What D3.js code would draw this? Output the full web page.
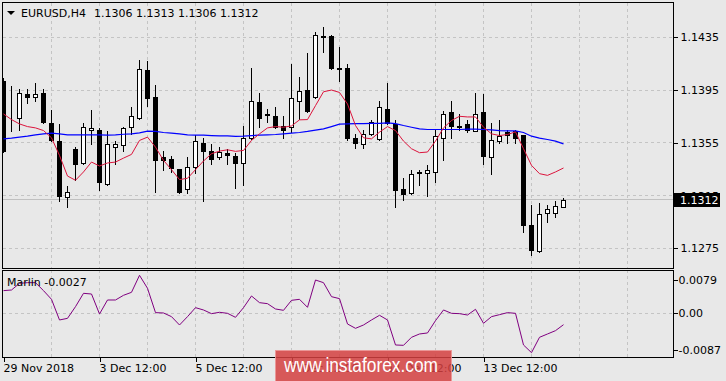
<!DOCTYPE html>
<html>
<head>
<meta charset="utf-8">
<script src="https://cdn.jsdelivr.net/npm/d3@7"></script>
<style>
  html, body { margin: 0; padding: 0; background: #e8e8e8; }
  svg { display: block; font-family: "DejaVu Sans", sans-serif; font-size: 11px; }
</style>
</head>
<body>
<svg id="chart" width="726" height="381"></svg>
<script>
(function() {

  var symbol = 'EURUSD,H4';
  var lastQuote = ['1.1306', '1.1313', '1.1306', '1.1312'];

  // H4 bars, 29 Nov 2018 12:00 .. 17 Dec
  var barOpen = [1.1402, 1.1373, 1.1374, 1.1392, 1.1390, 1.1393, 1.1370, 1.1356, 1.1314, 1.1350,
                 1.1340, 1.1365, 1.1365, 1.1324, 1.1352, 1.1353, 1.1367, 1.1374, 1.1410, 1.1390,
                 1.1344, 1.1343, 1.1335, 1.1320, 1.1337, 1.1355, 1.1349, 1.1344, 1.1347, 1.1345,
                 1.1340, 1.1359, 1.1386, 1.1377, 1.1375, 1.1368, 1.1367, 1.1387, 1.1395, 1.1390,
                 1.1436, 1.1436, 1.1412, 1.1412, 1.1359, 1.1354, 1.1362, 1.1358, 1.1381, 1.1369,
                 1.1320, 1.1317, 1.1333, 1.1332, 1.1333, 1.1359, 1.1378, 1.1368, 1.1369, 1.1364,
                 1.1378, 1.1344, 1.1356, 1.1363, 1.1364, 1.1361, 1.1293, 1.1273, 1.1302, 1.1302,
                 1.1306];
  var barHigh = [1.1404, 1.1398, 1.1396, 1.1396, 1.1400, 1.1396, 1.1380, 1.1369, 1.1322, 1.1352,
                 1.1370, 1.1380, 1.1366, 1.1364, 1.1356, 1.1367, 1.1382, 1.1418, 1.1417, 1.1399,
                 1.1349, 1.1345, 1.1335, 1.1344, 1.1361, 1.1359, 1.1354, 1.1352, 1.1350, 1.1347,
                 1.1368, 1.1412, 1.1393, 1.1381, 1.1382, 1.1375, 1.1415, 1.1405, 1.1423, 1.1439,
                 1.1443, 1.1437, 1.1428, 1.1415, 1.1362, 1.1365, 1.1372, 1.1387, 1.1400, 1.1372,
                 1.1328, 1.1334, 1.1334, 1.1338, 1.1365, 1.1379, 1.1387, 1.1377, 1.1372, 1.1393,
                 1.1392, 1.1370, 1.1372, 1.1365, 1.1365, 1.1361, 1.1308, 1.1309, 1.1308, 1.1311,
                 1.1313];
  var barLow = [1.1348, 1.1364, 1.1365, 1.1385, 1.1387, 1.1370, 1.1356, 1.1311, 1.1306, 1.1327,
                1.1339, 1.1354, 1.1319, 1.1323, 1.1339, 1.1349, 1.1362, 1.1373, 1.1383, 1.1318,
                1.1334, 1.1333, 1.1317, 1.1317, 1.1332, 1.1311, 1.1339, 1.1343, 1.1339, 1.1321,
                1.1323, 1.1358, 1.1367, 1.1371, 1.1366, 1.1359, 1.1363, 1.1373, 1.1378, 1.1389,
                1.1424, 1.1411, 1.1402, 1.1357, 1.1351, 1.1351, 1.1361, 1.1357, 1.1369, 1.1306,
                1.1312, 1.1316, 1.1323, 1.1315, 1.1325, 1.1342, 1.1359, 1.1365, 1.1363, 1.1364,
                1.1339, 1.1331, 1.1355, 1.1355, 1.1355, 1.1287, 1.1270, 1.1272, 1.1295, 1.1299,
                1.1306];
  var barClose = [1.1349, 1.1373, 1.1393, 1.1390, 1.1392, 1.1371, 1.1357, 1.1315, 1.1318, 1.1339,
                  1.1367, 1.1366, 1.1325, 1.1354, 1.1354, 1.1366, 1.1375, 1.1411, 1.1389, 1.1342,
                  1.1342, 1.1336, 1.1318, 1.1337, 1.1356, 1.1349, 1.1343, 1.1348, 1.1346, 1.1340,
                  1.1359, 1.1387, 1.1374, 1.1376, 1.1367, 1.1365, 1.1389, 1.1394, 1.1379, 1.1437,
                  1.1435, 1.1412, 1.1411, 1.1359, 1.1355, 1.1362, 1.1371, 1.1382, 1.1370, 1.1319,
                  1.1316, 1.1331, 1.1332, 1.1334, 1.1360, 1.1377, 1.1368, 1.1367, 1.1365, 1.1377,
                  1.1345, 1.1357, 1.1360, 1.1361, 1.1359, 1.1293, 1.1274, 1.1301, 1.1305, 1.1307,
                  1.1312];

  // red (fast) and blue (slow) moving averages
  var maFast = [1.13769, 1.13726, 1.13693, 1.13673, 1.13663, 1.13643, 1.13588, 1.13454, 1.13298, 1.13266,
                1.13329, 1.13404, 1.13374, 1.13397, 1.13404, 1.13434, 1.13462, 1.13568, 1.13593, 1.13517,
                1.13417, 1.13346, 1.13271, 1.13281, 1.13346, 1.13412, 1.13467, 1.13487, 1.13497, 1.13485,
                1.13492, 1.13568, 1.13618, 1.13663, 1.13673, 1.13668, 1.13678, 1.13724, 1.13726, 1.13832,
                1.13937, 1.13950, 1.13932, 1.13844, 1.13681, 1.13588, 1.13580, 1.13631, 1.13673, 1.13643,
                1.13563, 1.13505, 1.13475, 1.13480, 1.13563, 1.13663, 1.13719, 1.13751, 1.13746, 1.13746,
                1.13668, 1.13618, 1.13605, 1.13613, 1.13633, 1.13505, 1.13379, 1.13316, 1.13303, 1.13329,
                1.13359];
  var maSlow = [1.13580, 1.13585, 1.13593, 1.13600, 1.13610, 1.13618, 1.13623, 1.13618, 1.13610, 1.13610,
                1.13610, 1.13610, 1.13610, 1.13608, 1.13610, 1.13615, 1.13618, 1.13625, 1.13638, 1.13636,
                1.13628, 1.13623, 1.13618, 1.13610, 1.13608, 1.13608, 1.13605, 1.13603, 1.13603, 1.13598,
                1.13600, 1.13605, 1.13608, 1.13610, 1.13613, 1.13618, 1.13623, 1.13628, 1.13636, 1.13646,
                1.13656, 1.13673, 1.13691, 1.13693, 1.13696, 1.13696, 1.13698, 1.13698, 1.13701, 1.13696,
                1.13681, 1.13668, 1.13656, 1.13651, 1.13651, 1.13651, 1.13651, 1.13651, 1.13653, 1.13653,
                1.13651, 1.13648, 1.13643, 1.13641, 1.13641, 1.13628, 1.13600, 1.13585, 1.13575, 1.13563,
                1.13542];

  var marlin = [0.00538, 0.00553, 0.00711, 0.00727, 0.00727, 0.00538, 0.00332, -0.00158, -0.00119, 0.00158,
                0.00474, 0.00458, -0.00016, 0.00316, 0.00316, 0.00427, 0.00498, 0.00901, 0.00593, 0.00016,
                0.00008, -0.00079, -0.00277, -0.00079, 0.00134, 0.00079, -0.00008, 0.00024, 0.00000, -0.00095,
                0.00134, 0.00411, 0.00253, 0.00229, 0.00103, 0.00071, 0.00308, 0.00332, 0.00142, 0.00790,
                0.00727, 0.00395, 0.00348, -0.00253, -0.00356, -0.00277, -0.00158, -0.00047, -0.00158, -0.00751,
                -0.00759, -0.00569, -0.00490, -0.00466, -0.00174, 0.00079, 0.00000, -0.00008, -0.00040, 0.00095,
                -0.00237, -0.00079, -0.00032, 0.00016, 0.00000, -0.00751, -0.00933, -0.00569, -0.00490, -0.00411,
                -0.00270];

  var timeTicks = [0, 12, 24, 36, 48, 60];
  var timeLabels = ['29 Nov 2018', '3 Dec 12:00', '5 Dec 12:00', '7 Dec 12:00', '11 Dec 12:00', '13 Dec 12:00'];
  var priceTicks = [1.1435, 1.1395, 1.1355, 1.1315, 1.1275];
  var marlinTicks = [0.0079, 0, -0.0087];
  var marlinLabels = ['0.0079', '0.00', '-0.0087'];

  var svg = d3.select('#chart');

  var x = d3.scaleLinear().domain([0, 70]).range([3.5, 563.5]);
  var y = d3.scaleLinear().domain([1.1275, 1.1435]).range([248.3, 37.3]);
  var ym = d3.scaleLinear().domain([-0.0087, 0.0079]).range([350, 280]);

  function px(v) { return Math.floor(v) + 0.5; }

  var gridColor = '#c4c4c4';

  svg.append('defs').append('clipPath').attr('id', 'mainClip')
    .append('rect').attr('x', 3).attr('y', 3).attr('width', 670).attr('height', 265);
  svg.select('defs').append('clipPath').attr('id', 'subClip')
    .append('rect').attr('x', 3).attr('y', 271).attr('width', 670).attr('height', 86);

  // vertical grid, every 6 bars (one day)
  var vGrid = d3.range(6, 79, 6);
  [[3, 268], [270, 357]].forEach(function(span) {
    svg.append('g').selectAll('line').data(vGrid).enter().append('line')
      .attr('x1', function(d) { return x(d); })
      .attr('x2', function(d) { return x(d); })
      .attr('y1', span[0]).attr('y2', span[1])
      .attr('stroke', gridColor).attr('stroke-dasharray', '3,3')
      .attr('shape-rendering', 'crispEdges');
  });

  svg.append('g').selectAll('line').data(priceTicks).enter().append('line')
    .attr('x1', 3).attr('x2', 673)
    .attr('y1', function(d) { return px(y(d)); })
    .attr('y2', function(d) { return px(y(d)); })
    .attr('stroke', gridColor).attr('stroke-dasharray', '3,3')
    .attr('shape-rendering', 'crispEdges');

  svg.append('line')
    .attr('x1', 3).attr('x2', 673)
    .attr('y1', px(ym(0))).attr('y2', px(ym(0)))
    .attr('stroke', gridColor).attr('stroke-dasharray', '3,3')
    .attr('shape-rendering', 'crispEdges');

  // bid line
  svg.append('line')
    .attr('x1', 3).attr('x2', 673)
    .attr('y1', px(y(+lastQuote[3]))).attr('y2', px(y(+lastQuote[3])))
    .attr('stroke', '#c0c0c0')
    .attr('shape-rendering', 'crispEdges');

  var plot = svg.append('g').attr('clip-path', 'url(#mainClip)');

  var bars = d3.range(barOpen.length);

  plot.append('g').selectAll('line').data(bars).enter().append('line')
    .attr('x1', function(i) { return x(i); })
    .attr('x2', function(i) { return x(i); })
    .attr('y1', function(i) { return Math.round(y(barHigh[i])); })
    .attr('y2', function(i) { return Math.round(y(barLow[i])) + 1; })
    .attr('stroke', '#000')
    .attr('shape-rendering', 'crispEdges');

  plot.append('g').selectAll('rect').data(bars).enter().append('rect')
    .attr('x', function(i) { return x(i) - 2; })
    .attr('width', 4)
    .attr('y', function(i) { return Math.round(y(Math.max(barOpen[i], barClose[i]))) + 0.5; })
    .attr('height', function(i) {
      return Math.round(y(Math.min(barOpen[i], barClose[i]))) - Math.round(y(Math.max(barOpen[i], barClose[i])));
    })
    .attr('fill', function(i) { return barClose[i] >= barOpen[i] ? '#fff' : '#000'; })
    .attr('stroke', '#000')
    .attr('shape-rendering', 'crispEdges');

  var maLine = d3.line()
    .x(function(d, i) { return x(i); })
    .y(function(d) { return y(d); });

  plot.append('path').datum(maSlow)
    .attr('d', maLine).attr('fill', 'none')
    .attr('stroke', '#0000ff').attr('stroke-width', 1.2);

  plot.append('path').datum(maFast)
    .attr('d', maLine).attr('fill', 'none')
    .attr('stroke', '#dc143c').attr('stroke-width', 1);

  var subLine = d3.line()
    .x(function(d, i) { return x(i); })
    .y(function(d) { return ym(d); });

  svg.append('g').attr('clip-path', 'url(#subClip)')
    .append('path').datum(marlin)
    .attr('d', subLine).attr('fill', 'none')
    .attr('stroke', '#800080').attr('stroke-width', 1);

  // frames
  svg.append('rect').attr('x', 2.5).attr('y', 2.5).attr('width', 671).attr('height', 266)
    .attr('fill', 'none').attr('stroke', '#000').attr('shape-rendering', 'crispEdges');
  svg.append('rect').attr('x', 2.5).attr('y', 270.5).attr('width', 671).attr('height', 87)
    .attr('fill', 'none').attr('stroke', '#000').attr('shape-rendering', 'crispEdges');

  // axes
  var priceAxis = svg.append('g')
    .attr('transform', 'translate(673.5,0)')
    .call(d3.axisRight(y).tickValues(priceTicks).tickSize(4).tickPadding(3)
      .tickFormat(d3.format('.4f')));

  var subAxis = svg.append('g')
    .attr('transform', 'translate(673.5,0)')
    .call(d3.axisRight(ym).tickValues(marlinTicks).tickSize(4).tickPadding(1)
      .tickFormat(function(d, i) { return marlinLabels[i]; }));

  var timeAxis = svg.append('g')
    .attr('transform', 'translate(0,357.5)')
    .call(d3.axisBottom(x).tickValues(timeTicks).tickSize(4).tickPadding(3)
      .tickFormat(function(d, i) { return timeLabels[i]; }));
  timeAxis.selectAll('text').attr('text-anchor', 'start').attr('x', -0.5);

  [priceAxis, subAxis, timeAxis].forEach(function(ax) {
    ax.select('.domain').remove();
    ax.selectAll('line').attr('stroke', '#000').attr('shape-rendering', 'crispEdges');
    ax.selectAll('text').attr('fill', '#000')
      .style('font-family', '"DejaVu Sans", sans-serif').style('font-size', '11px');
  });

  // current price tag
  var tagY = y(+lastQuote[3]);
  svg.append('rect').attr('x', 674).attr('y', Math.round(tagY) - 7).attr('width', 46).attr('height', 14)
    .attr('fill', '#000');
  svg.append('text').attr('x', 680).attr('y', Math.round(tagY) + 4)
    .attr('fill', '#fff').text(lastQuote[3]);

  // header
  svg.append('path').attr('d', 'M7,11 L15,11 L11,15 Z').attr('fill', '#000');
  svg.append('text').attr('x', 21).attr('y', 16.5).attr('fill', '#000').text(symbol);
  svg.append('text').attr('x', 94).attr('y', 16.5).attr('fill', '#000')
    .text(lastQuote.join(' '));

  svg.append('text').attr('x', 7).attr('y', 286).attr('fill', '#000')
    .text('Marlin ' + marlin[marlin.length - 1].toFixed(4));

  // watermark
  svg.append('rect').attr('x', 275.5).attr('y', 350.5).attr('width', 176).attr('height', 31)
    .attr('fill', 'rgba(212,64,64,0.85)').attr('stroke', 'rgba(235,150,150,0.9)');
  svg.append('text').attr('x', 284).attr('y', 372)
    .attr('textLength', 154).attr('lengthAdjust', 'spacingAndGlyphs')
    .style('font-family', '"Liberation Sans", Arial, sans-serif').style('font-size', '20px')
    .attr('fill', '#fff').text('www.instaforex.com');

})();
</script>
</body>
</html>
